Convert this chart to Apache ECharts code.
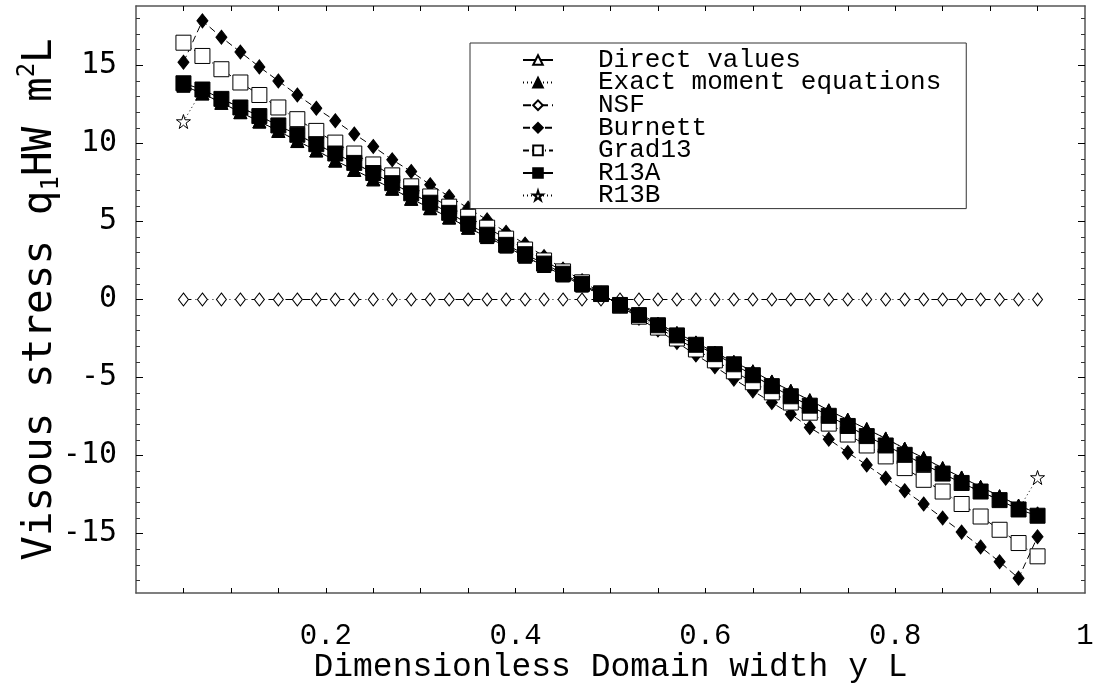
<!DOCTYPE html>
<html>
<head>
<meta charset="utf-8">
<script src="https://cdn.jsdelivr.net/npm/echarts@6/dist/echarts.min.js"></script>
<style>
html,body{margin:0;padding:0;background:#fff;}
#chart{width:1098px;height:686px;}
</style>
</head>
<body>
<div id="chart"></div>
<script>
const xs = [0.05,0.07,0.09,0.11,0.13,0.15,0.17,0.19,0.21,0.23,0.25,0.27,0.29,0.31,0.33,0.35,0.37,0.39,0.41,0.43,0.45,0.47,0.49,
            0.51,0.53,0.55,0.57,0.59,0.61,0.63,0.65,0.67,0.69,0.71,0.73,0.75,0.77,0.79,0.81,0.83,0.85,0.87,0.89,0.91,0.93,0.95];

const directValues = [13.7,13.2,12.6,12.0,11.4,10.8,10.15,9.55,8.9,8.3,7.7,7.1,6.45,5.85,5.25,4.6,4.0,3.4,2.75,2.15,1.55,0.9,0.3,
                      -0.3,-0.9,-1.55,-2.15,-2.75,-3.4,-4.0,-4.6,-5.25,-5.85,-6.45,-7.1,-7.7,-8.3,-8.9,-9.55,-10.15,-10.8,-11.4,-12.0,-12.6,-13.2,-13.7];
const exactMoment = [13.7,13.2,12.6,12.0,11.4,10.8,10.15,9.55,8.9,8.3,7.7,7.1,6.45,5.85,5.25,4.6,4.0,3.4,2.75,2.15,1.55,0.9,0.3,
                     -0.3,-0.9,-1.55,-2.15,-2.75,-3.4,-4.0,-4.6,-5.25,-5.85,-6.45,-7.1,-7.7,-8.3,-8.9,-9.55,-10.15,-10.8,-11.4,-12.0,-12.6,-13.2,-13.7];
const nsf = [0,0,0,0,0,0,0,0,0,0,0,0,0,0,0,0,0,0,0,0,0,0,0,
             0,0,0,0,0,0,0,0,0,0,0,0,0,0,0,0,0,0,0,0,0,0,0];
const burnett = [15.2,17.85,16.8,15.85,14.9,14.0,13.1,12.25,11.45,10.6,9.8,8.95,8.2,7.35,6.6,5.85,5.1,4.3,3.55,2.75,1.95,1.2,0.4,
                 -0.4,-1.2,-1.95,-2.75,-3.55,-4.3,-5.1,-5.85,-6.6,-7.35,-8.2,-8.95,-9.8,-10.6,-11.45,-12.25,-13.1,-14.0,-14.9,-15.85,-16.8,-17.85,-15.2];
const grad13 = [16.45,15.6,14.75,13.9,13.1,12.3,11.55,10.8,10.05,9.35,8.65,7.95,7.25,6.6,5.95,5.3,4.6,3.9,3.2,2.5,1.8,1.1,0.4,
                -0.4,-1.1,-1.8,-2.5,-3.2,-3.9,-4.6,-5.3,-5.95,-6.6,-7.25,-7.95,-8.65,-9.35,-10.05,-10.8,-11.55,-12.3,-13.1,-13.9,-14.75,-15.6,-16.45];
const r13a = [13.85,13.45,12.85,12.3,11.75,11.15,10.55,9.95,9.35,8.75,8.1,7.45,6.8,6.2,5.55,4.85,4.15,3.5,2.9,2.3,1.65,1.0,0.35,
              -0.35,-1.0,-1.65,-2.3,-2.9,-3.5,-4.15,-4.85,-5.55,-6.2,-6.8,-7.45,-8.1,-8.75,-9.35,-9.95,-10.55,-11.15,-11.75,-12.3,-12.85,-13.45,-13.85];
const r13b = [11.4,13.45,12.85,12.3,11.75,11.15,10.55,9.95,9.35,8.75,8.1,7.45,6.8,6.2,5.55,4.85,4.15,3.5,2.9,2.3,1.65,1.0,0.35,
              -0.35,-1.0,-1.65,-2.3,-2.9,-3.5,-4.15,-4.85,-5.55,-6.2,-6.8,-7.45,-8.1,-8.75,-9.35,-9.95,-10.55,-11.15,-11.75,-12.3,-12.85,-13.45,-11.4];

const seriesNames = ['Direct values','Exact moment equations','NSF','Burnett','Grad13','R13A','R13B'];
const xTickValues = [0.05,0.1,0.15,0.2,0.25,0.3,0.35,0.4,0.45,0.5,0.55,0.6,0.65,0.7,0.75,0.8,0.85,0.9,0.95];
const xLabelValues = [0.2,0.4,0.6,0.8,1];
const yMajorValues = [-15,-10,-5,0,5,10,15];
const yMinorValues = [-18,-17,-16,-14,-13,-12,-11,-9,-8,-7,-6,-4,-3,-2,-1,1,2,3,4,6,7,8,9,11,12,13,14,16,17,18];

const STAR = 'path://M50,2 L61,37 L98,37 L68,59 L79,95 L50,73 L21,95 L32,59 L2,37 L39,37 Z';
const frameColor = '#555';
const mono = 'Liberation Mono';
const sansMono = 'DejaVu Sans Mono';

function pairs(vals){ return xs.map((x,i)=>[x, vals[i]]); }

function mkSeries(name, vals, symbol, size, fill, lineType, z){
  return {
    name: name, type: 'line', data: pairs(vals),
    symbol: symbol, symbolSize: size, showSymbol: true,
    itemStyle: {color: fill, borderColor: '#000', borderWidth: 1},
    lineStyle: {color: '#000', width: 1, type: lineType},
    z: z, animation: false, silent: true,
    emphasis: {disabled: true}
  };
}

const chart = echarts.init(document.getElementById('chart'), null, {renderer:'canvas'});
const option = {
  backgroundColor: '#fff',
  animation: false,
  grid: {left: 136, right: 13, top: 6, bottom: 93, outerBoundsMode: 'none', containLabel: false},
  legend: {
    orient: 'vertical', left: 470, top: 43,
    backgroundColor: '#fff', borderColor: '#333', borderWidth: 1,
    padding: [4, 25, 0, 52],
    itemWidth: 30, itemHeight: 12, itemGap: -3.4,
    selectedMode: false,
    textStyle: {fontFamily: mono, fontSize: 26, color: '#000', padding: [0,0,0,40]},
    data: seriesNames
  },
  xAxis: [{
    type: 'value', position: 'bottom', min: 0, max: 1,
    name: 'Dimensionless Domain width y L', nameLocation: 'middle', nameGap: 58, nameMoveOverlap: false,
    nameTextStyle: {fontFamily: mono, fontSize: 33, color: '#000'},
    axisLine: {show: true, onZero: false, lineStyle: {color: frameColor, width: 1.5}},
    axisTick: {show: true, inside: true, length: 5, customValues: xTickValues, lineStyle: {color: '#000'}},
    axisLabel: {show: true, customValues: xLabelValues, margin: 29, fontFamily: mono, fontSize: 29, color: '#000',
                formatter: v => String(+v.toFixed(1))},
    splitLine: {show: false}
  },{
    type: 'value', position: 'top', min: 0, max: 1,
    axisLine: {show: true, onZero: false, lineStyle: {color: frameColor, width: 1.5}},
    axisTick: {show: true, inside: true, length: 5, customValues: xTickValues, lineStyle: {color: '#000'}},
    axisLabel: {show: false}, splitLine: {show: false}
  }],
  yAxis: [{
    type: 'value', position: 'left', min: -18.8, max: 18.8,
    name: 'Visous stress q{sub|1}HW m{sup|2}L', nameLocation: 'middle', nameGap: 72, nameRotate: 90, nameMoveOverlap: false,
    nameTextStyle: {fontFamily: sansMono, fontSize: 41, color: '#000', lineHeight: 48,
      rich: {
        sub: {fontFamily: sansMono, fontSize: 24, lineHeight: 24, verticalAlign: 'bottom', color: '#000'},
        sup: {fontFamily: sansMono, fontSize: 24, lineHeight: 24, verticalAlign: 'top', color: '#000'}
      }},
    axisLine: {show: true, onZero: false, lineStyle: {color: frameColor, width: 1.5}},
    axisTick: {show: true, inside: true, length: 7, customValues: yMajorValues, lineStyle: {color: '#000'}},
    axisLabel: {show: true, customValues: yMajorValues, margin: 19, fontFamily: sansMono, fontSize: 30, color: '#000'},
    splitLine: {show: false}
  },{
    type: 'value', position: 'left', min: -18.8, max: 18.8,
    axisLine: {show: false, onZero: false},
    axisTick: {show: true, inside: true, length: 4, customValues: yMinorValues, lineStyle: {color: '#333'}},
    axisLabel: {show: false}, splitLine: {show: false}
  },{
    type: 'value', position: 'right', min: -18.8, max: 18.8,
    axisLine: {show: true, onZero: false, lineStyle: {color: frameColor, width: 1.5}},
    axisTick: {show: true, inside: true, length: 7, customValues: yMajorValues, lineStyle: {color: '#000'}},
    axisLabel: {show: false}, splitLine: {show: false}
  },{
    type: 'value', position: 'right', min: -18.8, max: 18.8,
    axisLine: {show: false, onZero: false},
    axisTick: {show: true, inside: true, length: 4, customValues: yMinorValues, lineStyle: {color: '#333'}},
    axisLabel: {show: false}, splitLine: {show: false}
  }],
  series: [
    mkSeries(seriesNames[0], directValues, 'triangle', 13, '#fff', 'solid', 2),
    mkSeries(seriesNames[1], exactMoment, 'triangle', 13, '#000', [1,3], 3),
    mkSeries(seriesNames[2], nsf, 'diamond', [10,13], '#fff', [8,4,1,4], 3),
    mkSeries(seriesNames[3], burnett, 'diamond', [11,14], '#000', [7,4], 3),
    mkSeries(seriesNames[4], grad13, 'rect', 15, '#fff', [6,3,1,3], 4),
    mkSeries(seriesNames[5], r13a, 'rect', 15, '#000', 'solid', 5),
    mkSeries(seriesNames[6], r13b, STAR, 14, '#fff', [1,3], 1)
  ]
};
chart.setOption(option);
</script>
</body>
</html>
